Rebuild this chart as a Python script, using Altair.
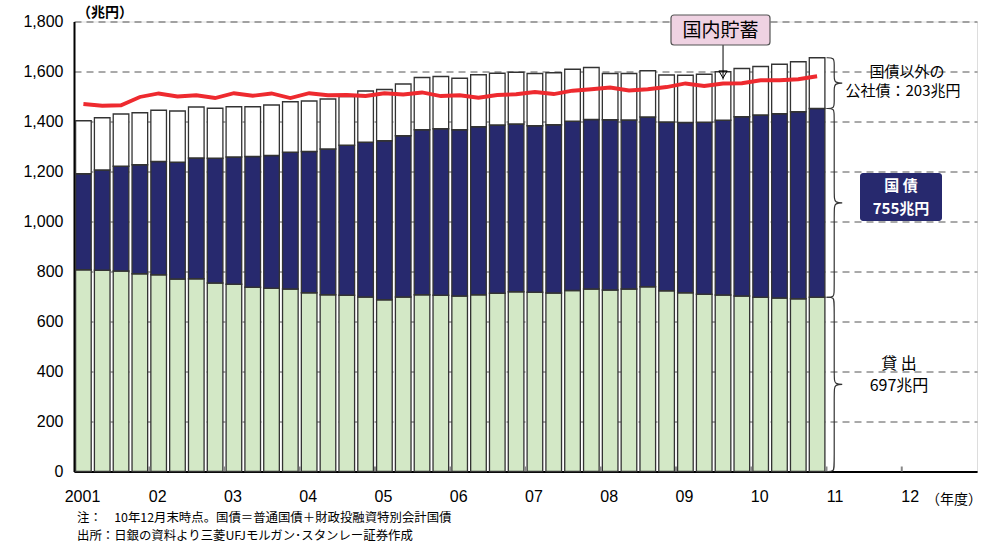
import altair as alt
import pandas as pd

# Quarterly balances, fiscal 2001 Q1 – 2010 Q4 (trillion yen)
loans = [807, 805, 802, 791, 787, 770, 771, 754, 749, 737,
         733, 730, 715, 707, 705, 698, 687, 698, 707, 705,
         702, 707, 713, 719, 717, 714, 724, 730, 726, 730,
         739, 723, 715, 709, 706, 702, 697, 694, 691, 697]
jgb = [384, 401, 419, 436, 453, 467, 483, 499, 509, 523,
       531, 547, 565, 583, 600, 619, 636, 645, 660, 666,
       665, 672, 673, 671, 666, 673, 677, 678, 681, 676,
       679, 675, 681, 688, 699, 717, 729, 737, 748, 755]
other_bonds = [212, 209, 209, 208, 205, 205, 204, 200, 201, 199,
               202, 202, 202, 200, 195, 205, 205, 207, 209, 209,
               206, 208, 207, 207, 209, 208, 208, 208, 185, 186,
               185, 188, 189, 192, 194, 193, 194, 198, 200, 203]
savings = [1470, 1463, 1465, 1498, 1512, 1500, 1505, 1494, 1513, 1503,
           1512, 1494, 1513, 1505, 1506, 1502, 1513, 1508, 1516, 1502,
           1505, 1495, 1506, 1509, 1518, 1510, 1523, 1529, 1536, 1524,
           1529, 1538, 1552, 1542, 1552, 1553, 1565, 1565, 1569, 1581]

year_labels = ["2001", "02", "03", "04", "05", "06", "07", "08",
               "09", "10", "11", "12"]
y_ticks = [0, 200, 400, 600, 800, 1000, 1200, 1400, 1600, 1800]

footnotes = ["注：　10年12月末時点。国債＝普通国債＋財政投融資特別会計国債",
             "出所：日銀の資料より三菱UFJモルガン･スタンレー証券作成"]

W, H = 903, 450
N_SLOTS = 4 * len(year_labels)  # quarters shown on the axis
HALF_BAR = 0.415

# ---- stacked segments ----
rows = []
for i, (a, b, c) in enumerate(zip(loans, jgb, other_bonds)):
    base = 0
    for name, v in (("貸出", a), ("国債", b), ("その他", c)):
        rows.append({"q": i + 0.5 - HALF_BAR, "q2": i + 0.5 + HALF_BAR,
                     "lo": base, "hi": base + v, "kind": name})
        base += v
bars_df = pd.DataFrame(rows)

line_df = pd.DataFrame({"q": [i + 0.5 for i in range(len(savings))],
                        "v": savings})

label_expr = "[" + ",".join(f"'{s}'" for s in year_labels) + "][datum.value / 4]"

x_scale = alt.Scale(domain=[0, N_SLOTS], nice=False, zero=False)
y_scale = alt.Scale(domain=[0, 1800], nice=False)

x_axis = alt.Axis(values=[4 * k for k in range(len(year_labels))],
                  labelExpr=label_expr, grid=False, ticks=False,
                  labelFlush=False, labelOverlap=False,
                  labelOffset=8, labelPadding=17, labelFontSize=16,
                  labelFont="Liberation Sans", labelColor="black",
                  domainColor="black", domainWidth=2, title=None)
y_axis = alt.Axis(values=y_ticks, format=",.0f", grid=True, gridDash=[7, 5],
                  gridColor="#555", gridWidth=1, ticks=False,
                  labelPadding=11, labelFontSize=16, labelFlush=False,
                  labelFont="Liberation Sans", labelColor="black",
                  domainColor="black", domainWidth=2, title=None)

bars = alt.Chart(bars_df).mark_bar(stroke="#333", strokeWidth=1.3).encode(
    x=alt.X("q:Q", scale=x_scale, axis=x_axis),
    x2="q2:Q",
    y=alt.Y("lo:Q", scale=y_scale, axis=y_axis),
    y2="hi:Q",
    color=alt.Color("kind:N", legend=None,
                    scale=alt.Scale(domain=["貸出", "国債", "その他"],
                                    range=["#d3e8c6", "#27296e", "#ffffff"])),
)

# small year ticks along the bottom edge
tick_df = pd.DataFrame({"q": [4 * k for k in range(1, len(year_labels))]})
year_ticks = alt.Chart(tick_df).mark_rule(color="#888", strokeWidth=2).encode(
    x=alt.X("q:Q", scale=x_scale),
    y=alt.value(H),
    y2=alt.value(H - 5),
)

red = alt.Chart(line_df).mark_line(color="#ee2a2f", strokeWidth=3.8).encode(
    x=alt.X("q:Q", scale=x_scale),
    y=alt.Y("v:Q", scale=y_scale),
)

# ---- curly braces beside the last bar ----
last = len(loans) - 1
seg_lo = [0, loans[last], loans[last] + jgb[last]]
seg_hi = [loans[last], loans[last] + jgb[last],
          loans[last] + jgb[last] + other_bonds[last]]
x0, xv, xt, c = last + 1.0, last + 1.41, last + 2.05, 24
brace_rows = []
for name, lo, hi in zip(["貸出", "国債", "その他"], seg_lo, seg_hi):
    mid = (lo + hi) / 2
    pts = [(x0, hi), (xv, hi), (xv, hi - c), (xv, mid + c), (xv, mid),
           (xt, mid), (xv, mid), (xv, mid - c), (xv, lo + c), (xv, lo),
           (x0, lo)]
    for k, (px, py) in enumerate(pts):
        brace_rows.append({"b": name, "k": k, "x": px, "y": py})
brace_df = pd.DataFrame(brace_rows)
braces = alt.Chart(brace_df).mark_line(
    interpolate="basis", color="#333", strokeWidth=1.2).encode(
    x=alt.X("x:Q", scale=x_scale),
    y=alt.Y("y:Q", scale=y_scale),
    detail="b:N",
    order="k:Q",
)

# ---- callout for the savings line ----
arrow_q = 34
arrow_df = pd.DataFrame({"q": [arrow_q + 0.5], "top": [1706],
                         "tip": [savings[arrow_q] + 16],
                         "head": [savings[arrow_q] + 36]})
arrow = alt.Chart(arrow_df).mark_rule(color="black", strokeWidth=1).encode(
    x=alt.X("q:Q", scale=x_scale),
    y=alt.Y("top:Q", scale=y_scale),
    y2="tip:Q",
)
arrow_head = alt.Chart(arrow_df).mark_point(
    shape="triangle-down", filled=False, color="black", size=70,
    strokeWidth=1, opacity=1).encode(
    x=alt.X("q:Q", scale=x_scale),
    y=alt.Y("head:Q", scale=y_scale),
)

one = alt.Data(values=[{}])

callout_box = alt.Chart(one).mark_rect(
    fill="#efd2e2", stroke="#555", strokeWidth=1.2, cornerRadius=3).encode(
    x=alt.value(597), x2=alt.value(696), y=alt.value(-6.5), y2=alt.value(23.5))
callout_text = alt.Chart(one).mark_text(
    font="Noto Sans CJK JP", fontSize=19, color="black").encode(
    x=alt.value(646.5), y=alt.value(9), text=alt.value("国内貯蓄"))

jgb_box = alt.Chart(one).mark_rect(fill="#27296e", cornerRadius=3).encode(
    x=alt.value(786), x2=alt.value(868), y=alt.value(151.5), y2=alt.value(199.5))


def label(txt, x, y, size, color="black", weight="normal"):
    return alt.Chart(one).mark_text(
        font="Noto Sans CJK JP", fontSize=size, color=color,
        fontWeight=weight, baseline="middle").encode(
        x=alt.value(x), y=alt.value(y), text=alt.value(txt))


texts = [
    label("国 債", 827, 164, 15, "white", "bold"),
    label("755兆円", 827, 187, 15, "white", "bold"),
    label("国債以外の", 833, 50.5, 15),
    label("公社債：203兆円", 829, 69.5, 15),
    label("貸 出", 825, 342, 16),
    label("697兆円", 825, 364, 16),
    label("（兆円）", 31, -9, 14, weight="bold"),
    label("（年度）", 880, 478, 14),
]

# source notes as one two-line block
notes = alt.Chart(one).mark_text(
    font="Noto Sans CJK JP", fontSize=12.4, color="black",
    align="left", baseline="top", lineHeight=18).encode(
    x=alt.value(3), y=alt.value(490.5), text=alt.value(footnotes))

chart = alt.layer(
    bars, year_ticks, red, braces, arrow, arrow_head,
    callout_box, callout_text, jgb_box, *texts, notes,
).properties(
    width=W, height=H,
    autosize=alt.AutoSizeParams(type="none"),
    padding={"left": 74, "top": 21.5, "right": 23, "bottom": 75.5},
).configure_view(
    stroke="black", strokeWidth=2,
).configure(background="white")

chart.save("out.html", embed_options={"renderer": "svg", "actions": False})
